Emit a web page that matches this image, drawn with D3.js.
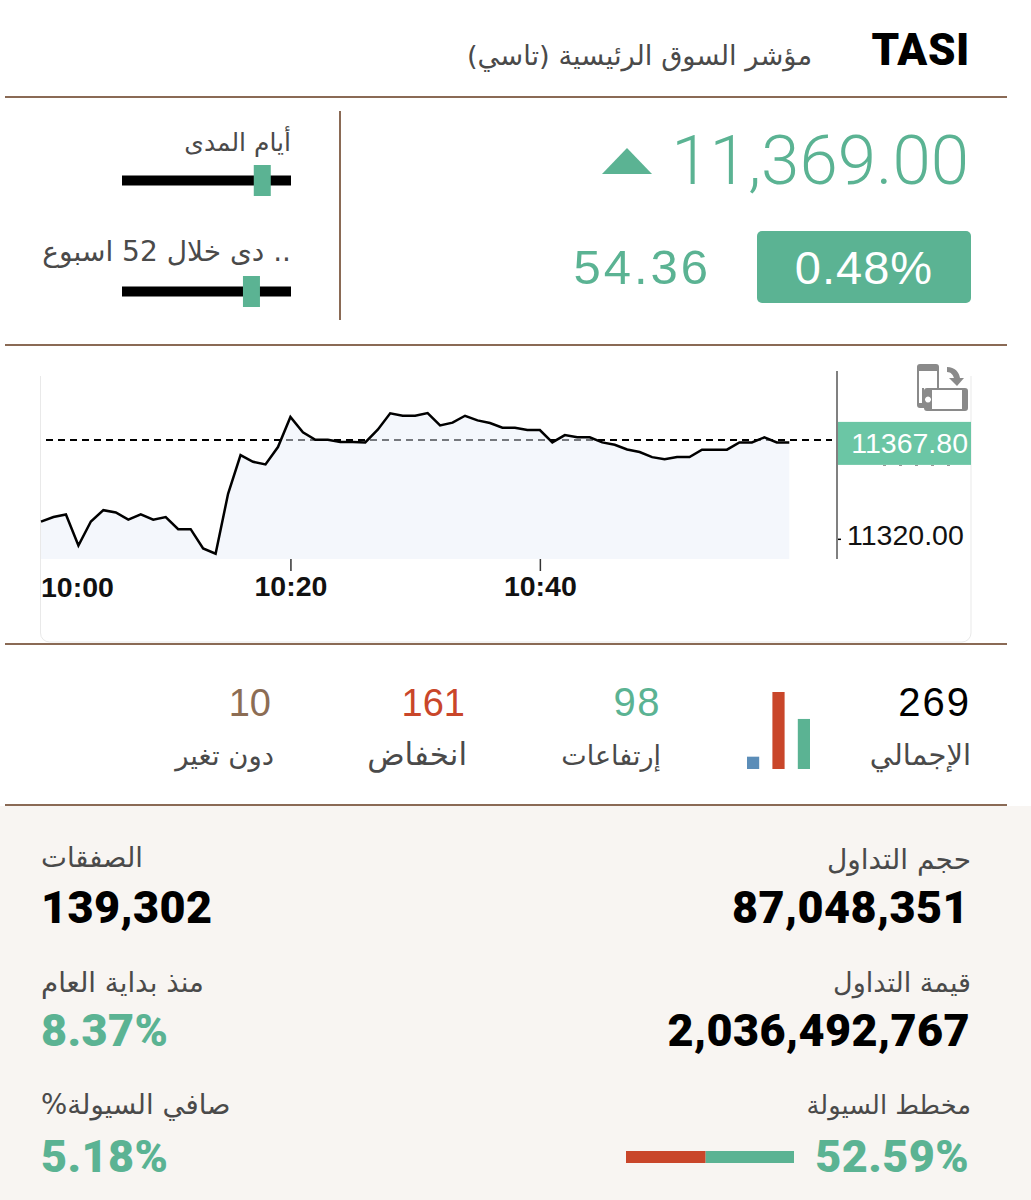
<!DOCTYPE html>
<html lang="ar">
<head>
<meta charset="utf-8">
<title>TASI</title>
<script src="https://cdn.jsdelivr.net/npm/d3@7/dist/d3.min.js"></script>
<style>
  html, body { margin: 0; padding: 0; background: #fff; }
  svg { display: block; }
  .ar { font-family: "DejaVu Sans", "Noto Sans", sans-serif; direction: rtl; fill: #4a4a4a; }
  .num { font-family: "Liberation Sans", Arial, sans-serif; }
  .thin { font-family: Roboto, "Liberation Sans", sans-serif; font-weight: 300; }
  .heavy { font-family: Roboto, "Liberation Sans", sans-serif; font-weight: 900; }
</style>
</head>
<body>
<div id="chart"></div>
<script>
// minute closes, 10:00 to 11:00
var closes = [
  11328.5, 11330.8, 11332.1, 11316.7, 11328.6, 11334.2, 11333.1, 11329.5, 11332.1, 11329.5,
  11330.8, 11324.8, 11324.8, 11315.2, 11312.6, 11342.3, 11361.5, 11358.2, 11356.9, 11365.5,
  11380.4, 11372.8, 11369.1, 11369.1, 11368.0, 11368.0, 11367.8, 11374.1, 11382.2, 11381.0,
  11381.0, 11382.3, 11376.2, 11377.6, 11381.0, 11378.7, 11377.4, 11375.1, 11375.1, 11373.9,
  11373.9, 11367.8, 11371.4, 11370.3, 11370.3, 11367.8, 11366.6, 11364.3, 11363.0, 11360.5,
  11359.4, 11360.5, 11360.5, 11364.2, 11364.2, 11364.2, 11367.8, 11367.8, 11370.3, 11367.8,
  11367.8
];
var lastTrade = 11369.00;
var lastClose = 11367.80;
var axisValues = [11320];
var timeTicks = ["10:20", "10:40"];

var rangeLabels = ["أيام المدى", ".. دى خلال 52 اسبوع"];
var rangePositions = [0.83, 0.766];

var breadthLabels = ["الإجمالي", "إرتفاعات", "انخفاض", "دون تغير"];
var breadthValues = [269, 98, 161, 10];
var breadthBars = [16, 100, 65]; // unchanged, down, up: lengths as drawn in the small bar chart

var liquidityShares = [47.41, 52.59]; // out, in

var W = 1031, H = 1200;
var green = "#5bb393", red = "#c9462a", brown = "#8a6a55";

var svg = d3.select("#chart").append("svg").attr("width", W).attr("height", H);

// bottom panel
svg.append("rect").attr("x", 0).attr("y", 806).attr("width", W).attr("height", H - 806).attr("fill", "#f8f5f2");

// separators
[97, 345, 644, 805].forEach(function (y) {
  svg.append("line").attr("x1", 5).attr("x2", 1007).attr("y1", y).attr("y2", y)
    .attr("stroke", brown).attr("stroke-width", 2);
});
svg.append("line").attr("x1", 340).attr("x2", 340).attr("y1", 111).attr("y2", 320)
  .attr("stroke", brown).attr("stroke-width", 2);

function ar(str, x, y, size, anchor, color) {
  return svg.append("text").attr("class", "ar").attr("x", x).attr("y", y)
    .attr("font-size", size).attr("text-anchor", anchor || "start")
    .style("fill", color || null).text(str);
}
function num(cls, str, x, y, size, anchor, color, spacing) {
  return svg.append("text").attr("class", cls).attr("x", x).attr("y", y)
    .attr("font-size", size).attr("text-anchor", anchor || "end")
    .attr("letter-spacing", spacing || 0)
    .attr("fill", color || "#000").text(str);
}

// header
num("heavy", "TASI", 970, 65, 44, "end", "#000", 0.6);
ar("مؤشر السوق الرئيسية (تاسي)", 812, 65, 27.3);

// price block
num("thin", d3.format(",.2f")(lastTrade), 969, 184, 69, "end", green);
svg.append("path").attr("d", "M602,174L627,148L652,174Z").attr("fill", green);
svg.append("rect").attr("x", 757).attr("y", 231).attr("width", 214).attr("height", 72).attr("rx", 5).attr("fill", green);
num("num", "0.48%", 864, 284, 47, "middle", "#fff", 1);
num("num", "54.36", 711, 284, 49, "end", green, 3);

// range sliders
var sliderX = d3.scaleLinear().domain([0, 1]).range([122, 291]);
var sliderY = [180.5, 291.5];
var rangeSizes = [25, 28];
rangePositions.forEach(function (p, i) {
  svg.append("rect").attr("x", sliderX(0)).attr("y", sliderY[i] - 5).attr("width", sliderX(1) - sliderX(0)).attr("height", 10).attr("fill", "#000");
  svg.append("rect").attr("x", sliderX(p) - 8.5).attr("y", sliderY[i] - 15.5).attr("width", 17).attr("height", 31).attr("fill", green);
  ar(rangeLabels[i], 291, i === 0 ? 151 : 261, rangeSizes[i]);
});

// chart card
svg.append("path").attr("d", "M40.5,376V633a9,9 0 0 0 9,9H962a9,9 0 0 0 9,-9V376")
  .attr("fill", "none").attr("stroke", "#e9e9e9").attr("stroke-width", 1);

var parseT = d3.timeParse("%H:%M");
var t0 = parseT("10:00");
var times = closes.map(function (d, i) { return d3.timeMinute.offset(t0, i); });
var x = d3.scaleTime().domain([t0, parseT("11:00")]).range([41, 789.3]);
var y = d3.scaleLinear().domain([11310, 11390]).range([559, 397.6]);

// reference line sits under the translucent area so it greys out where they overlap
svg.append("line").attr("x1", 46).attr("x2", 832).attr("y1", y(lastTrade)).attr("y2", y(lastTrade))
  .attr("stroke", "#000").attr("stroke-width", 2).attr("stroke-dasharray", "7,5");

var area = d3.area().x(function (d, i) { return x(times[i]); }).y0(y.range()[0]).y1(function (d) { return y(d); });
var line = d3.line().x(function (d, i) { return x(times[i]); }).y(function (d) { return y(d); });
svg.append("path").datum(closes).attr("d", area).attr("fill", "rgb(233,239,249)").attr("fill-opacity", 0.5);
svg.append("path").datum(closes).attr("d", line).attr("fill", "none").attr("stroke", "#000").attr("stroke-width", 2.5);

// time axis
var xAxis = d3.axisBottom(x).tickValues(timeTicks.map(parseT)).tickFormat(d3.timeFormat("%H:%M")).tickSize(12).tickPadding(5);
var gx = svg.append("g").attr("transform", "translate(0," + y.range()[0] + ")").call(xAxis);
gx.select(".domain").remove();
gx.selectAll("line").attr("stroke", "#333").attr("stroke-width", 1.5);
gx.selectAll("text").attr("class", "num").attr("font-size", 28.5).attr("font-weight", 700).attr("fill", "#111");
num("num", "10:00", 41, 597, 28.5, "start", "#111").attr("font-weight", 700);

// price axis
var yAxis = d3.axisRight(y).tickValues(axisValues).tickFormat(d3.format(".2f")).tickSize(4).tickPadding(6);
var gy = svg.append("g").attr("transform", "translate(837,0)").call(yAxis);
gy.select(".domain").remove();
gy.selectAll("line").attr("stroke", "#000").attr("stroke-width", 1.5);
gy.selectAll("text").attr("class", "num").attr("font-size", 28.5).attr("dy", 5.4).attr("fill", "#111");
svg.append("line").attr("x1", 837).attr("x2", 837).attr("y1", 371).attr("y2", y.range()[0]).attr("stroke", "#808080").attr("stroke-width", 2);

// last price tag, with the specks of the hidden tick label showing under it
svg.append("line").attr("x1", 883).attr("x2", 958).attr("y1", 465.5).attr("y2", 465.5)
  .attr("stroke", "#999").attr("stroke-width", 1).attr("stroke-dasharray", "3,13");
svg.append("rect").attr("x", 838).attr("y", y(lastClose) - 20.5).attr("width", 133).attr("height", 43).attr("fill", "#6bc6a5");
num("num", d3.format(".2f")(lastClose), 968, y(lastClose) + 11, 28.5, "end", "#fff");

// rotate device icon
var icon = svg.append("g").attr("fill", "#8a8a8a");
icon.append("path").attr("fill-rule", "evenodd")
  .attr("d", "M920,364h16a3,3 0 0 1 3,3v21h-15v20h-4a3,3 0 0 1 -3,-3v-38a3,3 0 0 1 3,-3ZM919,371v32h3v-15h15v-17Z");
icon.append("path").attr("fill-rule", "evenodd")
  .attr("d", "M927,388h38a3,3 0 0 1 3,3v17a3,3 0 0 1 -3,3h-38a3,3 0 0 1 -3,-3v-17a3,3 0 0 1 3,-3ZM932,390v19h30v-19ZM928,396.5a3,3 0 1 0 0.01,0Z");
icon.append("path").attr("d", "M947,367c8,0 12,5 13,11h4l-7,8l-8,-8h5c-1,-3 -3,-6 -7,-6Z");

// breadth row
var breadthRight = [971, 661, 465, 271];
var labelRight = [971, 661, 467, 274];
var labelSizes = [29, 27, 31, 27.5];
var numberSizes = [40, 40, 38, 38];
var breadthSpacing = [2, 1.5, 0, 0];
var breadthColors = ["#000", green, red, "#8c6d54"];
breadthValues.forEach(function (v, i) {
  num("num", v, breadthRight[i], 716, numberSizes[i], "end", breadthColors[i], breadthSpacing[i]);
  ar(breadthLabels[i], labelRight[i], 765, labelSizes[i]);
});

// small bar chart
var barX = d3.scaleBand().domain([0, 1, 2]).range([747, 810]).paddingInner(0.52);
var barY = d3.scaleLinear().domain([0, 100]).range([769, 692]);
var barColors = ["#5b8db8", red, green];
svg.selectAll(".mini").data(breadthBars).enter().append("rect").attr("class", "mini")
  .attr("x", function (d, i) { return barX(i); })
  .attr("y", function (d) { return barY(d); })
  .attr("width", barX.bandwidth())
  .attr("height", function (d) { return barY(0) - barY(d); })
  .attr("fill", function (d, i) { return barColors[i]; });

// stats panel
ar("حجم التداول", 971, 869, 28);
num("heavy", "87,048,351", 969, 923, 45, "end", "#000", 0.4);
ar("الصفقات", 41, 867, 27.5, "end");
num("heavy", "139,302", 41, 923, 45, "start", "#000", 0.4);
ar("قيمة التداول", 971, 992, 27);
num("heavy", "2,036,492,767", 970, 1046, 45, "end", "#000", 0.4);
ar("منذ بداية العام", 41, 992, 27.7, "end");
num("heavy", "8.37%", 41, 1046, 45, "start", green, 0.4);
ar("مخطط السيولة", 971, 1114, 25.7);
num("heavy", "52.59%", 969, 1172, 45, "end", green, 0.4);
ar("صافي السيولة%", 41, 1114, 27.6, "end");
num("heavy", "5.18%", 41, 1172, 45, "start", green, 0.4);

// liquidity bar
var liqX = d3.scaleLinear().domain([0, d3.sum(liquidityShares)]).range([626, 794]);
svg.append("rect").attr("x", liqX(0)).attr("y", 1151).attr("width", liqX(liquidityShares[0]) - liqX(0)).attr("height", 12).attr("fill", red);
svg.append("rect").attr("x", liqX(liquidityShares[0])).attr("y", 1151).attr("height", 12).attr("width", liqX.range()[1] - liqX(liquidityShares[0])).attr("fill", green);
</script>
</body>
</html>
